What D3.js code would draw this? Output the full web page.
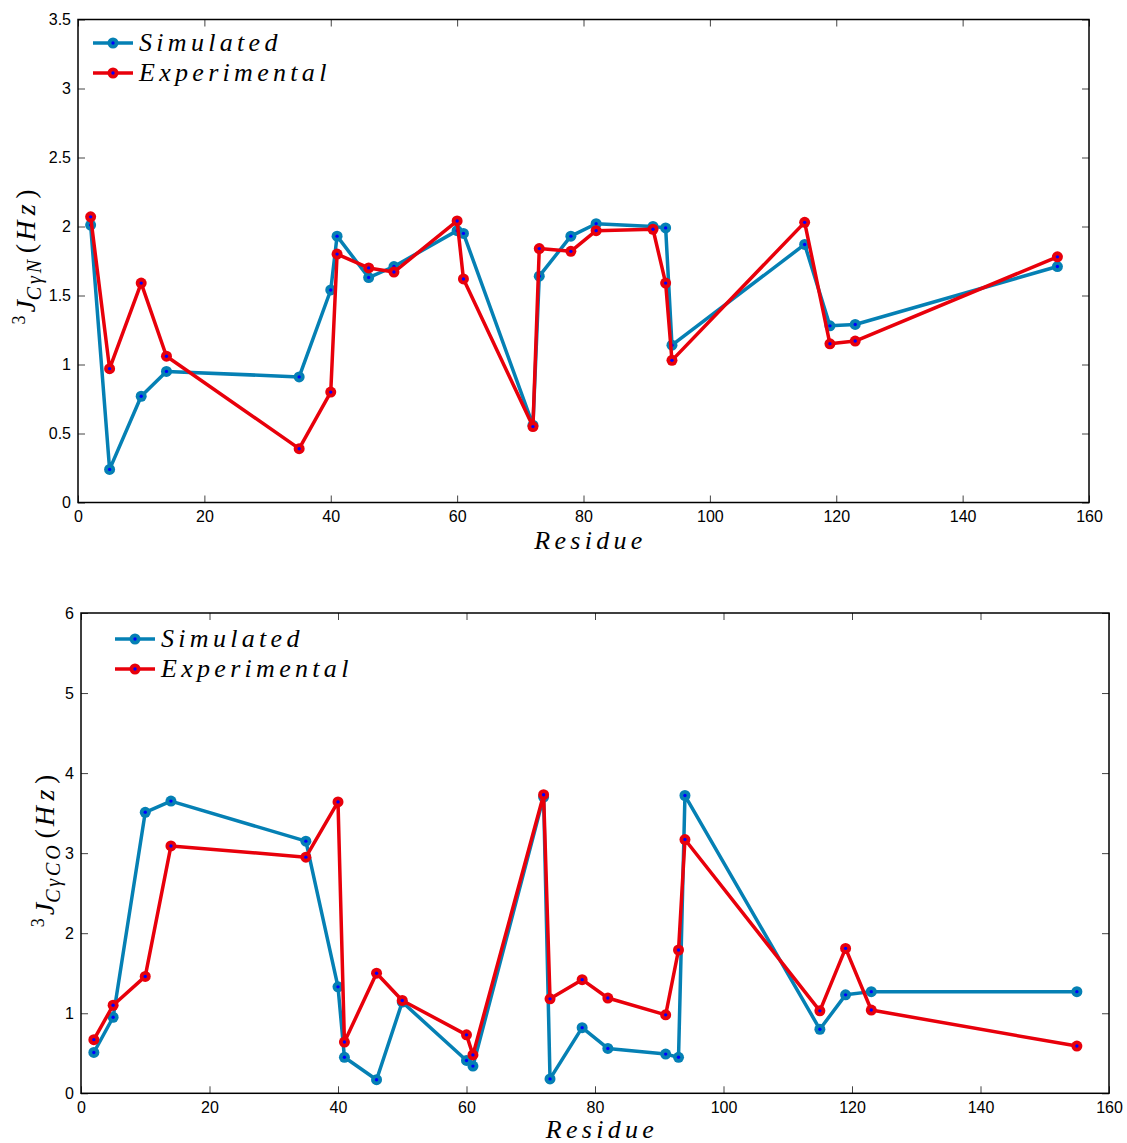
<!DOCTYPE html>
<html>
<head>
<meta charset="utf-8">
<script src="https://cdn.jsdelivr.net/npm/d3@7"></script>
<style>
  body { margin: 0; background: #fff; }
  svg { display: block; }
  .tick text { font-family: "Liberation Sans", Arial, sans-serif; font-size: 16px; fill: #000; }
  .tick line { stroke: #444; stroke-width: 1; }
  .math { font-family: "Liberation Serif", "DejaVu Serif", serif; font-style: italic; fill: #000; }
</style>
</head>
<body>
<svg id="chart" width="1127" height="1143"></svg>
<script>
// residues (shared by both panels)
const residues = [2, 5, 10, 14, 35, 40, 41, 46, 50, 60, 61, 72, 73, 78, 82, 91, 93, 94, 115, 119, 123, 155];

// 3J(CγN)
const nSim = [2.01, 0.24, 0.77, 0.95, 0.91, 1.54, 1.93, 1.63, 1.71, 1.97, 1.95, 0.56, 1.64, 1.93, 2.02, 2.00, 1.99, 1.14, 1.87, 1.28, 1.29, 1.71];
const nExp = [2.07, 0.97, 1.59, 1.06, 0.39, 0.80, 1.80, 1.70, 1.67, 2.04, 1.62, 0.55, 1.84, 1.82, 1.97, 1.98, 1.59, 1.03, 2.03, 1.15, 1.17, 1.78];

// 3J(CγCO)
const coSim = [0.51, 0.95, 3.51, 3.65, 3.15, 1.33, 0.45, 0.17, 1.14, 0.41, 0.34, 3.70, 0.18, 0.82, 0.56, 0.49, 0.45, 3.72, 0.80, 1.23, 1.27, 1.27];
const coExp = [0.67, 1.10, 1.46, 3.09, 2.95, 3.64, 0.64, 1.50, 1.16, 0.73, 0.48, 3.73, 1.18, 1.42, 1.19, 0.98, 1.79, 3.17, 1.03, 1.81, 1.04, 0.59];

const xTicks = [0, 20, 40, 60, 80, 100, 120, 140, 160];
const nTicks = [0, 0.5, 1, 1.5, 2, 2.5, 3, 3.5];
const coTicks = [0, 1, 2, 3, 4, 5, 6];

const seriesNames = ["Simulated", "Experimental"];
const colors = ["#0580b4", "#e8000b"];

const svg = d3.select("#chart");

function panel(cfg) {
    const x = d3.scaleLinear().domain([0, 160]).range([cfg.left, cfg.right]);
    const y = d3.scaleLinear().domain([0, cfg.ymax]).range([cfg.bottom, cfg.top]);
    const g = svg.append("g");

    // axes, ticks pointing inward
    g.append("g").attr("transform", `translate(0,${cfg.bottom})`)
        .call(d3.axisBottom(x).tickValues(xTicks).tickSize(-7).tickSizeOuter(0).tickPadding(8))
        .call(a => a.select(".domain").remove());
    g.append("g").attr("transform", `translate(0,${cfg.top})`)
        .call(d3.axisTop(x).tickValues(xTicks).tickSize(-7).tickSizeOuter(0).tickFormat(""))
        .call(a => a.select(".domain").remove());
    g.append("g").attr("transform", `translate(${cfg.left},0)`)
        .call(d3.axisLeft(y).tickValues(cfg.yTicks).tickSize(-7).tickSizeOuter(0).tickPadding(7).tickFormat(d3.format("~g")))
        .call(a => a.select(".domain").remove());
    g.append("g").attr("transform", `translate(${cfg.right},0)`)
        .call(d3.axisRight(y).tickValues(cfg.yTicks).tickSize(-7).tickSizeOuter(0).tickFormat(""))
        .call(a => a.select(".domain").remove());

    g.append("rect")
        .attr("x", cfg.left).attr("y", cfg.top)
        .attr("width", cfg.right - cfg.left).attr("height", cfg.bottom - cfg.top)
        .attr("fill", "none").attr("stroke", "#000").attr("stroke-width", 1.5);

    const line = d3.line().x(d => x(d[0])).y(d => y(d[1]));

    cfg.series.forEach((vals, i) => {
        const pts = residues.map((r, k) => [r, vals[k]]);
        const s = g.append("g");
        s.append("path").datum(pts)
            .attr("d", line)
            .attr("fill", "none")
            .attr("stroke", colors[i])
            .attr("stroke-width", 3.5)
            .attr("stroke-linejoin", "round");
        s.selectAll("circle.m").data(pts).enter().append("circle")
            .attr("class", "m")
            .attr("cx", d => x(d[0])).attr("cy", d => y(d[1]))
            .attr("r", 5.5).attr("fill", colors[i]);
        s.selectAll("circle.c").data(pts).enter().append("circle")
            .attr("class", "c")
            .attr("cx", d => x(d[0])).attr("cy", d => y(d[1]))
            .attr("r", 1.7).attr("fill", "#0000ff");
    });

    // legend
    seriesNames.forEach((name, i) => {
        const ly = cfg.legendY + i * 30;
        g.append("line")
            .attr("x1", cfg.legendX).attr("x2", cfg.legendX + 40)
            .attr("y1", ly).attr("y2", ly)
            .attr("stroke", colors[i]).attr("stroke-width", 3.5);
        g.append("circle").attr("cx", cfg.legendX + 20).attr("cy", ly).attr("r", 5.5).attr("fill", colors[i]);
        g.append("circle").attr("cx", cfg.legendX + 20).attr("cy", ly).attr("r", 1.7).attr("fill", "#0000ff");
        g.append("text").attr("class", "math")
            .attr("x", cfg.legendX + 46).attr("y", ly + 8)
            .attr("font-size", 26).attr("letter-spacing", 4.3)
            .text(name);
    });

    // x label
    g.append("text").attr("class", "math")
        .attr("x", (cfg.left + cfg.right) / 2 + 7).attr("y", cfg.bottom + cfg.xLabelDy)
        .attr("text-anchor", "middle")
        .attr("font-size", 26).attr("letter-spacing", 4.3)
        .text("Residue");

    // y label: ³J_{Cγ..} (Hz)
    const yl = g.append("text").attr("class", "math")
        .attr("transform", `translate(${cfg.yLabelX},${cfg.yLabelY}) rotate(-90)`)
        .attr("text-anchor", "middle")
        .attr("font-size", 28);
    yl.append("tspan").attr("font-style", "normal").attr("font-size", 18).attr("dy", -10).text("3");
    yl.append("tspan").attr("dy", 10).attr("dx", 3).text("J");
    yl.append("tspan").attr("font-size", 20).attr("dy", 6).attr("letter-spacing", 2.8).text(cfg.sub);
    yl.append("tspan").attr("font-style", "normal").attr("dy", -6).attr("dx", 4).text("(");
    yl.append("tspan").attr("letter-spacing", 5.5).attr("dx", 3).text("Hz");
    yl.append("tspan").attr("font-style", "normal").text(")");
}

panel({
    left: 78, right: 1089, top: 19.5, bottom: 502.5, ymax: 3.5, yTicks: nTicks,
    series: [nSim, nExp], legendX: 93, legendY: 43, xLabelDy: 46,
    yLabelX: 35, yLabelY: 257, sub: "CγN"
});

panel({
    left: 81, right: 1109, top: 613, bottom: 1093.3, ymax: 6, yTicks: coTicks,
    series: [coSim, coExp], legendX: 115, legendY: 639, xLabelDy: 45,
    yLabelX: 54, yLabelY: 851, sub: "CγCO"
});
</script>
</body>
</html>
